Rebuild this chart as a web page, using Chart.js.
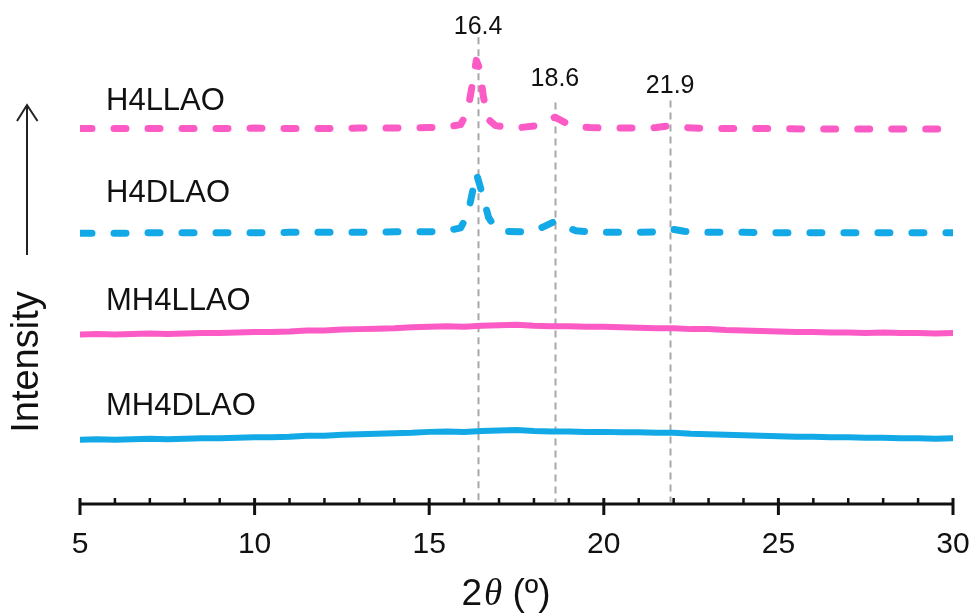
<!DOCTYPE html>
<html>
<head>
<meta charset="utf-8">
<script src="https://cdn.jsdelivr.net/npm/chart.js@4.4.1/dist/chart.umd.min.js"></script>
<style>
  body { margin: 0; background: #fff; }
  #wrap { width: 976px; height: 616px; }
</style>
</head>
<body>
<div id="wrap"><canvas id="xrd" width="976" height="616"></canvas></div>
<script>
// 2theta positions of the sharp (dashed) scans and of the smooth (solid) scans
const xSharp = [5, 6, 7, 8, 9, 10, 11, 12, 13, 14, 15,
  15.5, 15.9, 16.1, 16.25, 16.35, 16.45, 16.55, 16.7, 16.9, 17.2, 17.6, 18.0, 18.3, 18.6, 18.9, 19.2, 19.6, 20,
  21, 21.5, 21.9, 22.3, 23, 24, 25, 26, 27, 28, 29, 30];
const xBroad = [5, 5.5, 6, 6.5, 7, 7.5, 8, 8.5, 9, 9.5, 10, 10.5, 11, 11.5, 12, 12.5, 13, 13.5, 14, 14.5,
  15, 15.5, 16, 16.5, 17, 17.5, 18, 18.5, 19, 19.5, 20, 20.5, 21, 21.5, 22, 22.5, 23, 23.5, 24, 24.5,
  25, 25.5, 26, 26.5, 27, 27.5, 28, 28.5, 29, 29.5, 30];

// intensities (offset for stacking, arbitrary units)
const h4llao = [76.0, 76.0, 76.0, 76.0, 76.0, 76.1, 76.0, 76.0, 76.1, 76.1, 76.2,
  76.3, 76.8, 79.5, 85.5, 89.8, 88.0, 82.5, 77.8, 76.6, 76.3, 76.2, 76.5, 77.4, 78.3, 77.2, 76.4, 76.2, 76.1,
  76.1, 76.2, 76.6, 76.2, 76.0, 76.0, 76.0, 75.9, 75.9, 75.9, 75.9, 75.9];
const h4dlao = [54.8, 54.8, 54.9, 54.9, 54.9, 54.9, 55.0, 55.0, 55.0, 55.1, 55.1,
  55.3, 55.9, 58.5, 63.5, 66.9, 64.5, 62.0, 58.0, 55.8, 55.2, 55.1, 55.3, 56.2, 57.2, 56.2, 55.3, 55.1, 55.0,
  55.0, 55.1, 55.7, 55.2, 55.0, 55.0, 54.9, 54.9, 54.9, 54.9, 54.9, 54.9];
const mh4llao = [34.3, 34.4, 34.3, 34.4, 34.5, 34.4, 34.5, 34.6, 34.6, 34.7, 34.8, 34.8, 34.9, 35.1, 35.1,
  35.3, 35.4, 35.5, 35.6, 35.8, 35.9, 36.0, 35.9, 36.1, 36.2, 36.3, 36.1, 36.0, 36.0, 35.9, 35.9, 35.8,
  35.7, 35.6, 35.6, 35.4, 35.4, 35.2, 35.1, 35.0, 34.9, 34.8, 34.8, 34.7, 34.7, 34.6, 34.7, 34.6, 34.6,
  34.5, 34.6];
const mh4dlao = [13.0, 13.1, 13.0, 13.1, 13.2, 13.1, 13.2, 13.3, 13.3, 13.4, 13.5, 13.5, 13.6, 13.8, 13.8,
  14.0, 14.1, 14.2, 14.3, 14.4, 14.6, 14.7, 14.6, 14.8, 14.9, 15.0, 14.8, 14.7, 14.7, 14.6, 14.6, 14.5,
  14.5, 14.4, 14.4, 14.2, 14.1, 14.0, 13.9, 13.8, 13.7, 13.6, 13.6, 13.5, 13.5, 13.4, 13.4, 13.3, 13.3,
  13.2, 13.3];

const seriesNames = ["H4LLAO", "H4DLAO", "MH4LLAO", "MH4DLAO"];
const nameLevels = [81.5, 62.8, 41.1, 19.7];

// reference peaks marked with grey dashed lines
const peakPos = [16.4, 18.6, 21.9];
const peakText = ["16.4", "18.6", "21.9"];
const peakTextLevel = [96.5, 86.0, 84.6];
const peakLineTop = [94.5, 81.3, 81.7];

const xTicks = [5, 10, 15, 20, 25, 30];

const PINK = "#fc5bc6";
const BLUE = "#12a9e6";

const toPts = (xs, ys) => xs.map((x, i) => ({ x: x, y: ys[i] }));

const decor = {
  id: "decor",
  beforeDatasetsDraw(chart) {
    const { ctx, scales: { x, y }, chartArea } = chart;
    ctx.save();
    ctx.strokeStyle = "#a8a8a8";
    ctx.lineWidth = 2;
    ctx.setLineDash([7, 5]);
    peakPos.forEach((p, i) => {
      const px = Math.round(x.getPixelForValue(p)) + 0.5;
      ctx.beginPath();
      ctx.moveTo(px, y.getPixelForValue(peakLineTop[i]));
      ctx.lineTo(px, chartArea.bottom - 2);
      ctx.stroke();
    });
    ctx.restore();
  },
  afterDraw(chart) {
    const { ctx, scales: { x, y }, chartArea } = chart;
    ctx.save();
    ctx.fillStyle = "#111";

    // peak values
    ctx.font = '25px "Liberation Sans", Arial, sans-serif';
    ctx.textAlign = "center";
    ctx.textBaseline = "middle";
    peakPos.forEach((p, i) => {
      ctx.fillText(peakText[i], x.getPixelForValue(p), y.getPixelForValue(peakTextLevel[i]));
    });

    // sample names
    ctx.font = '31px "Liberation Sans", Arial, sans-serif';
    ctx.textAlign = "left";
    seriesNames.forEach((n, i) => {
      ctx.fillText(n, chartArea.left + 26, y.getPixelForValue(nameLevels[i]));
    });

    // x axis line with major / minor ticks
    const yb = chartArea.bottom;
    ctx.strokeStyle = "#111";
    ctx.lineWidth = 3;
    ctx.beginPath();
    ctx.moveTo(chartArea.left, yb);
    ctx.lineTo(chartArea.right, yb);
    ctx.stroke();
    for (let v = x.min; v <= x.max; v++) {
      const px = x.getPixelForValue(v);
      const major = v % 5 === 0;
      ctx.lineWidth = major ? 3 : 2.5;
      ctx.beginPath();
      ctx.moveTo(px, yb - 6);
      ctx.lineTo(px, major ? yb + 11 : yb);
      ctx.stroke();
    }

    // axis title: 2θ (º)
    const parts = [
      { t: "2", f: '37px "Liberation Sans", Arial, sans-serif' },
      { t: "\u03B8", f: 'italic 37px "Liberation Serif", serif' },
      { t: " (\u00BA)", f: '37px "Liberation Sans", Arial, sans-serif' }
    ];
    let total = 0;
    parts.forEach(p => { ctx.font = p.f; p.w = ctx.measureText(p.t).width; total += p.w; });
    let cx = 505 - total / 2;
    ctx.textBaseline = "alphabetic";
    parts.forEach(p => { ctx.font = p.f; ctx.fillText(p.t, cx, 605); cx += p.w + (p.t === "2" ? 2 : 0); });

    // y axis: Intensity with arrow
    ctx.save();
    ctx.translate(38, 362);
    ctx.rotate(-Math.PI / 2);
    ctx.font = '38px "Liberation Sans", Arial, sans-serif';
    ctx.textAlign = "center";
    ctx.fillText("Intensity", 0, 0);
    ctx.restore();

    ctx.lineWidth = 2;
    ctx.strokeStyle = "#222";
    ctx.beginPath();
    ctx.moveTo(27, 255);
    ctx.lineTo(27, 106);
    ctx.moveTo(17, 121);
    ctx.lineTo(27, 105);
    ctx.lineTo(37.5, 121);
    ctx.stroke();

    ctx.restore();
  }
};

const dashed = (data, color) => ({
  data: data,
  borderColor: color,
  borderWidth: 7,
  borderDash: [12, 22],
  borderCapStyle: "round",
  borderJoinStyle: "round",
  pointRadius: 0,
  tension: 0,
  fill: false
});
const solid = (data, color) => ({
  data: data,
  borderColor: color,
  borderWidth: 6,
  borderCapStyle: "round",
  pointRadius: 0,
  tension: 0,
  fill: false
});

new Chart(document.getElementById("xrd"), {
  type: "line",
  data: {
    datasets: [
      dashed(toPts(xSharp, h4llao), PINK),
      dashed(toPts(xSharp, h4dlao), BLUE),
      solid(toPts(xBroad, mh4llao), PINK),
      solid(toPts(xBroad, mh4dlao), BLUE)
    ]
  },
  options: {
    responsive: false,
    animation: false,
    layout: { padding: { left: 80, right: 23, top: 10, bottom: 30 } },
    plugins: { legend: { display: false }, tooltip: { enabled: false } },
    scales: {
      x: {
        type: "linear",
        min: 5,
        max: 30,
        afterBuildTicks: (s) => { s.ticks = xTicks.map(v => ({ value: v })); },
        afterFit: (s) => { s.paddingLeft = 0; s.paddingRight = 0; },
        ticks: {
          padding: 23,
          color: "#111",
          font: { family: '"Liberation Sans", Arial, sans-serif', size: 30 }
        },
        grid: { display: false, drawTicks: false },
        border: { display: false }
      },
      y: { display: false, min: 0, max: 100 }
    }
  },
  plugins: [decor]
});
</script>
</body>
</html>
